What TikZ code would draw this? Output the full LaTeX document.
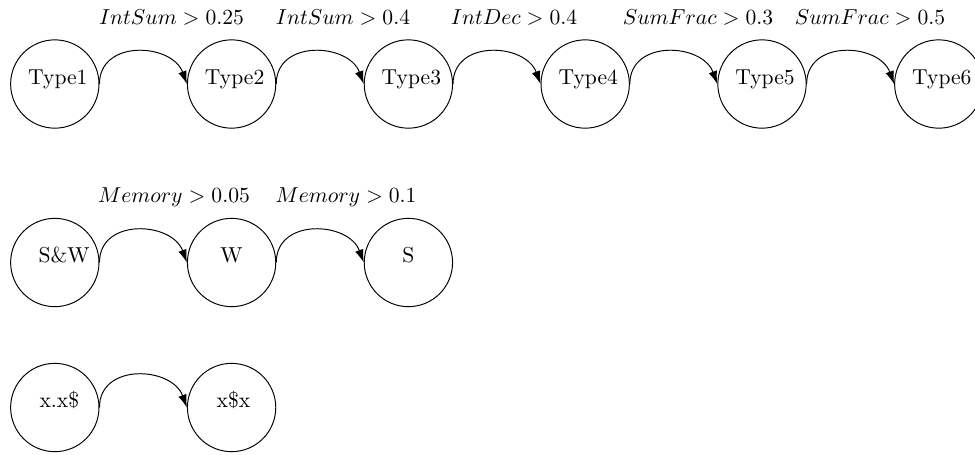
\documentclass[tikz,border=0pt]{standalone}
\usetikzlibrary{arrows.meta}
\begin{document}
\begin{tikzpicture}[x=0.463pt,y=-0.463pt,
  state/.style={draw,circle,minimum size=40.9pt,inner sep=0pt,text height=5pt,text depth=5pt,line width=0.45pt},
  trans/.style={draw,line width=0.45pt,-{Latex[length=6pt,width=4pt]}},
  cond/.style={anchor=base,inner sep=0pt}]
\useasboundingbox (0,0) rectangle (975,454);
% row 1
\node[state] (t1) at (54.8,84) {\hspace{2.8pt}Type1};
\node[state] (t2) at (231.6,84) {\hspace{2.8pt}Type2};
\node[state] (t3) at (408.4,84) {\hspace{2.8pt}Type3};
\node[state] (t4) at (585.2,84) {\hspace{2.8pt}Type4};
\node[state] (t5) at (762,84) {\hspace{2.8pt}Type5};
\node[state] (t6) at (938.8,84) {\hspace{2.8pt}Type6};
\foreach \a/\b in {t1/t2,t2/t3,t3/t4,t4/t5,t5/t6}
  \draw[trans] (\a.east) .. controls +(0,-45) and +(-15,-41) .. (\b.west);
\node[cond] (c1) at (171.5,24.5) {$IntSum > 0.25$};
\node[cond] (c2) at (343,24.5) {$IntSum > 0.4$};
\node[cond] (c3) at (514,24.5) {$IntDec > 0.4$};
\node[cond] (c4) at (698,24.5) {$SumFrac > 0.3$};
\node[cond] (c5) at (870,24.5) {$SumFrac > 0.5$};
% row 2
\node[state] (sw) at (54.8,262.5) {\hspace{8.7pt}S\&W};
\node[state] (w) at (231.6,262.5) {W\hspace{3.7pt}};
\node[state] (s) at (408.4,262.5) {S\hspace{8.8pt}};
\draw[trans] (sw.east) .. controls +(0,-45) and +(-15,-41) .. (w.west);
\draw[trans] (w.east) .. controls +(0,-45) and +(-15,-41) .. (s.west);
\node[cond] (m1) at (174,202.7) {$Memory > 0.05$};
\node[cond] (m2) at (346,202.7) {$Memory > 0.1$};
% row 3
\node[state] (x1) at (54.8,407.5) {\hspace{4.2pt}x.x\$};
\node[state] (x2) at (231.6,407.5) {\hspace{1.7pt}x\$x};
\draw[trans] (x1.east) .. controls +(0,-45) and +(-15,-41) .. (x2.west);
\end{tikzpicture}
\end{document}
